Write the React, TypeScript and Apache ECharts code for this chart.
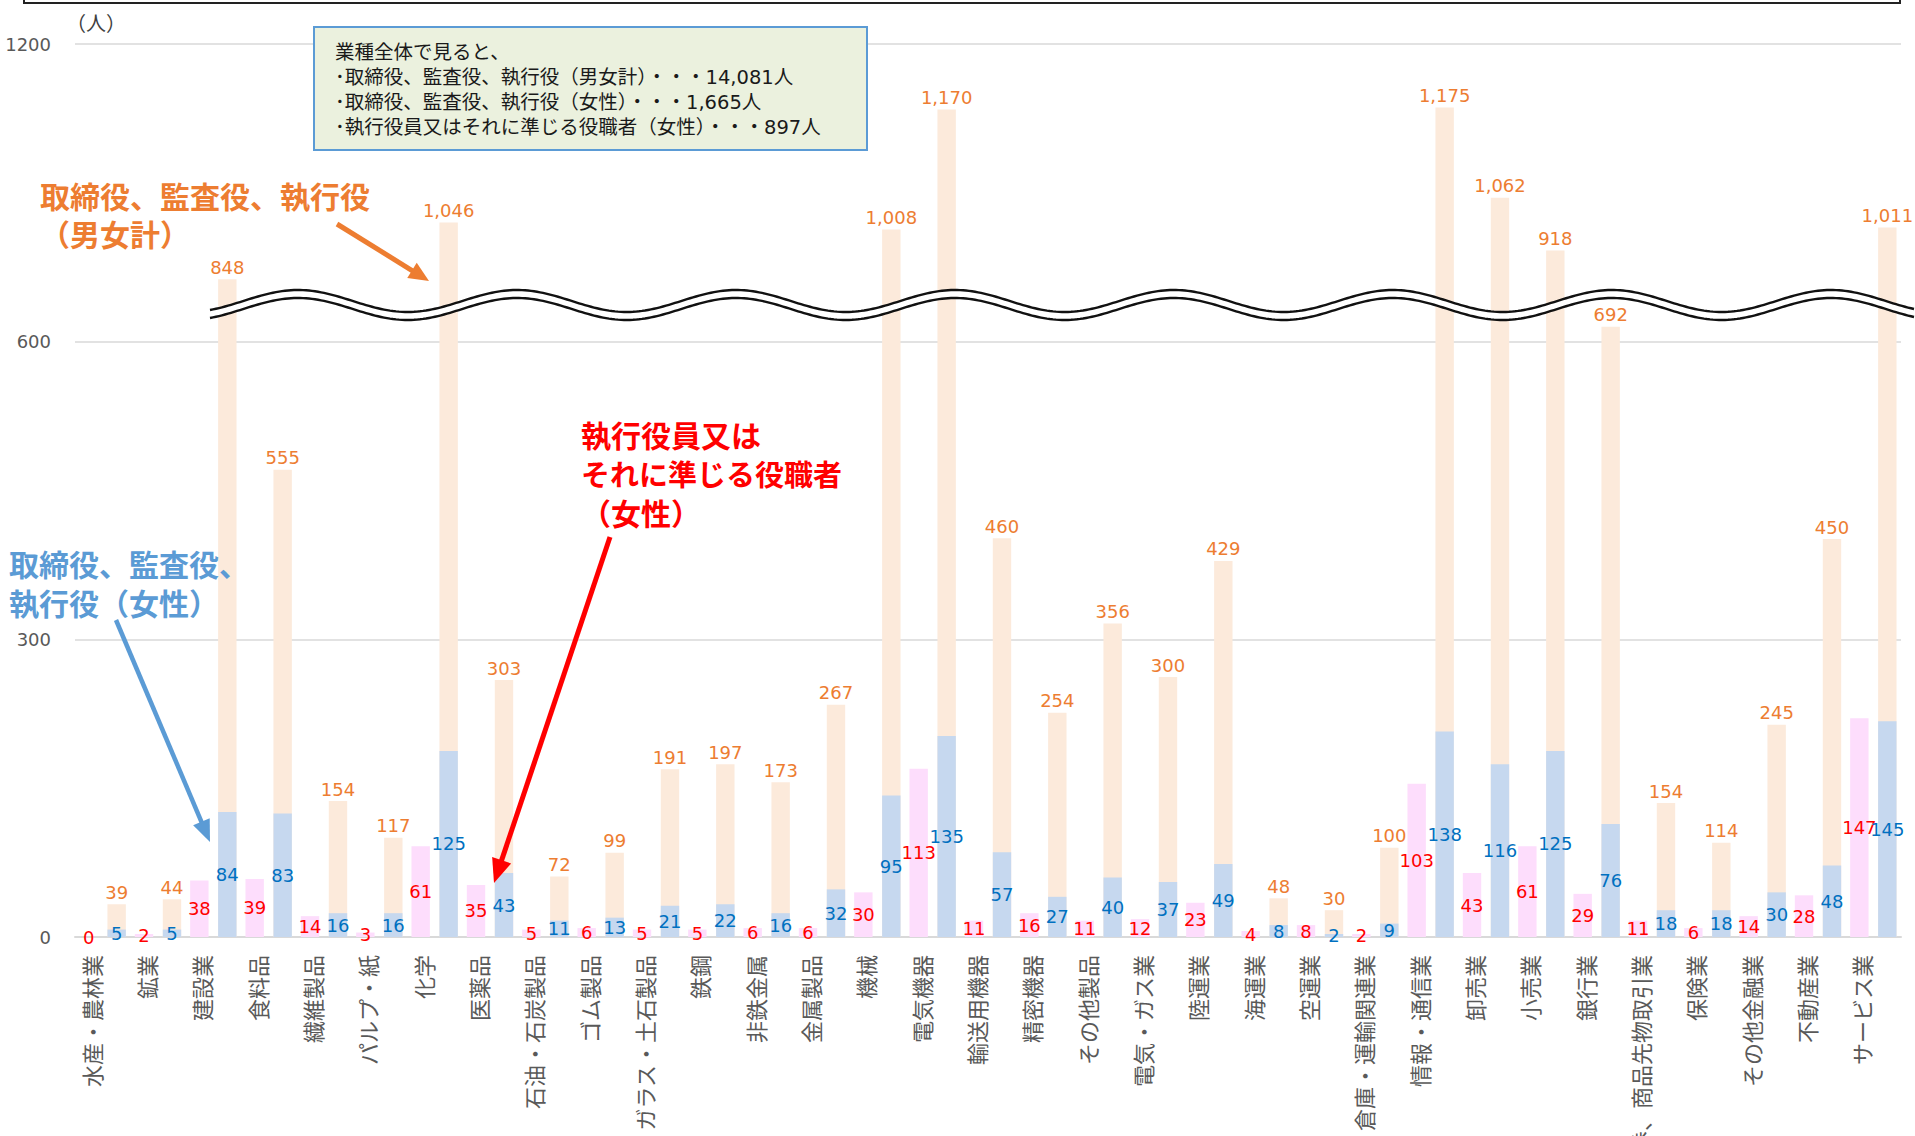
import React, { useEffect, useRef } from 'react';
import * as echarts from 'echarts';

const categories = ['水産・農林業', '鉱業', '建設業', '食料品', '繊維製品', 'パルプ・紙', '化学', '医薬品', '石油・石炭製品', 'ゴム製品', 'ガラス・土石製品', '鉄鋼', '非鉄金属', '金属製品', '機械', '電気機器', '輸送用機器', '精密機器', 'その他製品', '電気・ガス業', '陸運業', '海運業', '空運業', '倉庫・運輸関連業', '情報・通信業', '卸売業', '小売業', '銀行業', '証券、商品先物取引業', '保険業', 'その他金融業', '不動産業', 'サービス業'];

// 取締役、監査役、執行役（男女計） — label values
const totalValues = [39, 44, 848, 555, 154, 117, 1046, 303, 72, 99, 191, 197, 173, 267, 1008, 1170, 460, 254, 356, 300, 429, 48, 30, 100, 1175, 1062, 918, 692, 154, 114, 245, 450, 1011];
// bar lengths as drawn on the broken axis
const totalBarHeights = [33, 38, 663, 471, 137, 100, 720, 259, 61, 85, 169, 174, 156, 234, 713, 834, 402, 226, 316, 262, 379, 39, 27, 90, 836, 745, 692, 615, 135, 95, 214, 401, 715];
// 取締役、監査役、執行役（女性）
const femaleBoard = [5, 5, 84, 83, 16, 16, 125, 43, 11, 13, 21, 22, 16, 32, 95, 135, 57, 27, 40, 37, 49, 8, 2, 9, 138, 116, 125, 76, 18, 18, 30, 48, 145];
// 執行役員又はそれに準じる役職者（女性）
const femaleExec = [0, 2, 38, 39, 14, 3, 61, 35, 5, 6, 5, 5, 6, 6, 30, 113, 11, 16, 11, 12, 23, 4, 8, 2, 103, 43, 61, 29, 11, 6, 14, 28, 147];

const yTicks = [0, 300, 600, 900];
const yTickLabels = ['0', '300', '600', '1200'];

const boxLines = [
  '業種全体で見ると、',
  '･取締役、監査役、執行役（男女計）・・・14,081人',
  '･取締役、監査役、執行役（女性）・・・1,665人',
  '･執行役員又はそれに準じる役職者（女性）・・・897人',
];

const NUM_FONT = '"DejaVu Sans", "Noto Sans CJK JP", sans-serif';
const JP_FONT = '"Noto Sans CJK JP", sans-serif';

function fmt(n: number) {
  return String(n).replace(/\B(?=(\d{3})+(?!\d))/g, ',');
}

function arrow(x1: number, y1: number, x2: number, y2: number, color: string, width: number, headLen: number, headW: number) {
  const dx = x2 - x1, dy = y2 - y1;
  const L = Math.hypot(dx, dy);
  const ux = dx / L, uy = dy / L;
  const bx = x2 - ux * headLen, by = y2 - uy * headLen;
  const px = -uy, py = ux;
  return [
    { type: 'line', z: 20, shape: { x1, y1, x2: bx + ux * 2, y2: by + uy * 2 }, style: { stroke: color, lineWidth: width } },
    { type: 'polygon', z: 20, shape: { points: [[x2, y2], [bx + px * headW, by + py * headW], [bx - px * headW, by - py * headW]] }, style: { fill: color } },
  ];
}

function wave() {
  const x0 = 210, x1 = 1915;
  const up: number[][] = [];
  const lo: number[][] = [];
  for (let x = x0; x <= x1; x += 3) {
    const y = 301 - 11 * Math.cos((2 * Math.PI * (x - 298)) / 219);
    up.push([x, y]);
    lo.push([x, y + 8]);
  }
  return [
    { type: 'polygon', z: 15, shape: { points: [...up, ...lo.slice().reverse()] }, style: { fill: '#ffffff' } },
    { type: 'polyline', z: 16, shape: { points: up }, style: { stroke: '#111', lineWidth: 2.4, fill: null } },
    { type: 'polyline', z: 16, shape: { points: lo }, style: { stroke: '#111', lineWidth: 2.4, fill: null } },
  ];
}

export default function App() {
  const ref = useRef<HTMLDivElement>(null);
  useEffect(() => {
    if (!ref.current) return;
    const chart = echarts.init(ref.current, undefined, { renderer: 'svg', width: 1915, height: 1136 });
    const barW = 18.4;
    const option: any = {
      animation: false,
      backgroundColor: '#ffffff',
      grid: { left: 75, right: 14, top: 44, bottom: 199, containLabel: false, outerBoundsMode: 'none' },
      xAxis: [
        {
          type: 'category',
          data: categories,
          axisTick: { show: false },
          axisLine: { lineStyle: { color: '#D9D9D9', width: 2 } },
          axisLabel: {
            interval: 0,
            rotate: 90,
            margin: 18,
            fontSize: 22,
            lineHeight: 24,
            verticalAlign: 'bottom',
            color: '#595959',
            fontFamily: JP_FONT,
            hideOverlap: false,
          },
        },
        { type: 'category', data: categories, show: false },
      ],
      yAxis: [
        {
          type: 'value',
          min: 0,
          max: 900,
          interval: 300,
          axisLine: { show: false },
          axisTick: { show: false },
          axisLabel: {
            margin: 24,
            fontSize: 18,
            color: '#595959',
            fontFamily: NUM_FONT,
            formatter: (v: number) => {
              const i = yTicks.indexOf(v);
              return i >= 0 ? yTickLabels[i] : '';
            },
          },
          splitLine: { lineStyle: { color: '#D9D9D9', width: 1.5 } },
        },
        { type: 'value', min: 0, max: 600, show: false, splitLine: { show: false } },
      ],
      series: [
        {
          name: '執行役員又はそれに準じる役職者（女性）',
          type: 'bar',
          xAxisIndex: 0,
          yAxisIndex: 1,
          data: femaleExec,
          barWidth: barW,
          barGap: '52%',
          itemStyle: { color: '#FDDDFC' },
          label: { show: true, position: 'inside', color: '#FF0000', fontSize: 18, fontFamily: NUM_FONT },
        },
        {
          name: '取締役、監査役、執行役（男女計）',
          type: 'bar',
          xAxisIndex: 0,
          yAxisIndex: 0,
          data: totalBarHeights,
          barWidth: barW,
          barGap: '52%',
          itemStyle: { color: '#FCEADB' },
          label: {
            show: true,
            position: 'top',
            distance: 3,
            color: '#ED7D31',
            fontSize: 18,
            fontFamily: NUM_FONT,
            formatter: (p: any) => fmt(totalValues[p.dataIndex]),
          },
        },
        {
          name: 'spacer',
          type: 'bar',
          xAxisIndex: 1,
          yAxisIndex: 1,
          data: [],
          barWidth: barW,
          barGap: '52%',
        },
        {
          name: '取締役、監査役、執行役（女性）',
          type: 'bar',
          xAxisIndex: 1,
          yAxisIndex: 1,
          z: 3,
          data: femaleBoard,
          barWidth: barW,
          barGap: '52%',
          itemStyle: { color: '#C6D8EF' },
          label: { show: true, position: 'inside', color: '#0070C0', fontSize: 18, fontFamily: NUM_FONT },
        },
      ],
      graphic: [
        { type: 'polyline', z: 20, shape: { points: [[24, -6], [24, 3], [1900, 3], [1900, -6]] }, style: { stroke: '#222', lineWidth: 2, fill: null } },
        { type: 'text', z: 20, x: 66, y: 22, style: { text: '（人）', fontSize: 20, fontFamily: JP_FONT, fill: '#404040', verticalAlign: 'middle' } },
        ...wave(),
        { type: 'rect', z: 18, shape: { x: 314, y: 27, width: 553, height: 123 }, style: { fill: '#EBF1DE', stroke: '#5B9BD5', lineWidth: 2 } },
        ...boxLines.map((t, i) => ({
          type: 'text', z: 19, x: 335, y: 52 + i * 25,
          style: { text: t, fontSize: 19.5, fontFamily: NUM_FONT, fill: '#1a1a1a', verticalAlign: 'middle' },
        })),
        { type: 'text', z: 20, x: 40, y: 195, style: { text: '取締役、監査役、執行役', fontSize: 30, fontWeight: 'bold', fontFamily: JP_FONT, fill: '#ED7D31', verticalAlign: 'middle', lineHeight: 34 } },
        { type: 'text', z: 20, x: 40, y: 233, style: { text: '（男女計）', fontSize: 30, fontWeight: 'bold', fontFamily: JP_FONT, fill: '#ED7D31', verticalAlign: 'middle', lineHeight: 34 } },
        { type: 'text', z: 20, x: 9, y: 563, style: { text: '取締役、監査役、', fontSize: 30, fontWeight: 'bold', fontFamily: JP_FONT, fill: '#5B9BD5', verticalAlign: 'middle', lineHeight: 34 } },
        { type: 'text', z: 20, x: 9, y: 602, style: { text: '執行役（女性）', fontSize: 30, fontWeight: 'bold', fontFamily: JP_FONT, fill: '#5B9BD5', verticalAlign: 'middle', lineHeight: 34 } },
        { type: 'text', z: 20, x: 581, y: 434, style: { text: '執行役員又は', fontSize: 30, fontWeight: 'bold', fontFamily: JP_FONT, fill: '#FF0000', verticalAlign: 'middle', lineHeight: 34 } },
        { type: 'text', z: 20, x: 581, y: 473, style: { text: 'それに準じる役職者', fontSize: 29, fontWeight: 'bold', fontFamily: JP_FONT, fill: '#FF0000', verticalAlign: 'middle', lineHeight: 34 } },
        { type: 'text', z: 20, x: 581, y: 512, style: { text: '（女性）', fontSize: 30, fontWeight: 'bold', fontFamily: JP_FONT, fill: '#FF0000', verticalAlign: 'middle', lineHeight: 34 } },
        ...arrow(337, 224, 429, 281, '#ED7D31', 5, 20, 9),
        ...arrow(116, 620, 210, 842, '#5B9BD5', 4.5, 22, 9),
        ...arrow(610, 537, 494, 883, '#FF0000', 5, 24, 10),
      ],
    };
    chart.setOption(option);
    return () => chart.dispose();
  }, []);
  return <div ref={ref} style={{ position: 'absolute', left: 0, top: 0, width: 1915, height: 1136, background: '#fff' }} />;
}
